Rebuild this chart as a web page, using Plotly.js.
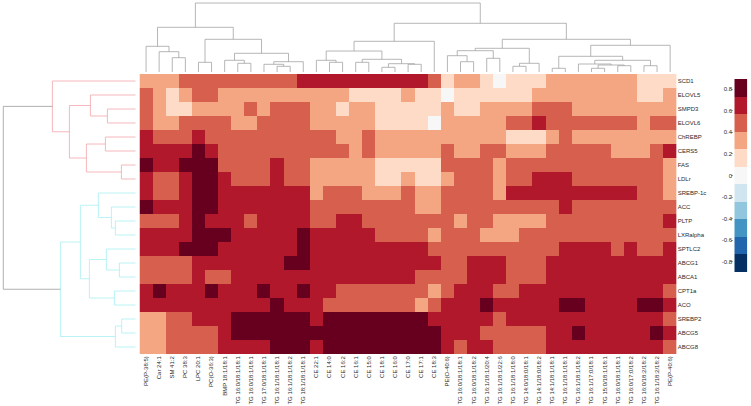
<!DOCTYPE html>
<html>
<head>
<meta charset="utf-8">
<script src="https://cdn.plot.ly/plotly-3.0.1.min.js"></script>
<style>html,body{margin:0;padding:0;background:#fff}#chart{width:751px;height:406px}</style>
</head>
<body>
<div id="chart"></div>
<script>
const columnLabels = ["PE(P-38:5)","Car 24:1","SM 41:2","PC 38:3","LPC 20:1","PC(O-36:3)","BMP 18:1/18:1",
"TG 16:0/18:1/18:1","TG 16:0/18:1/18:1","TG 17:0/18:1/18:1","TG 16:1/18:1/18:1","TG 16:1/18:1/18:2","TG 18:1/18:1/18:1",
"CE 22:1","CE 14:0","CE 16:2","CE 16:1","CE 15:0","CE 18:1","CE 16:0","CE 17:0","CE 17:1","CE 18:3","PE(O-40:6)",
"TG 16:0/18:1/18:1","TG 16:0/18:1/18:2","TG 16:1/18:1/20:4","TG 16:1/18:1/22:6","TG 16:1/18:1/18:0","TG 14:0/18:0/18:1","TG 14:1/18:0/18:2",
"TG 14:1/18:1/18:1","TG 16:1/18:1/18:1","TG 16:1/18:1/18:2","TG 16:1/17:0/18:1","TG 15:0/18:1/18:1","TG 16:0/18:1/18:1","TG 16:0/17:0/18:2",
"TG 16:0/18:2/18:2","TG 16:1/18:2/18:2","PE(P-40:6)"];
const rowLabels = ["SCD1","ELOVL5","SMPD3","ELOVL6","ChREBP","CERS5","FAS","LDLr","SREBP-1c","ACC","PLTP","LXRalpha","SPTLC2","ABCG1","ABCA1","CPT1a","ACO","SREBP2","ABCG5","ABCG8"];

const SCD1     = [.32,.32,.32,.49,.49,.49,.49,.49,.49,.49,.49,.49,.65,.65,.65,.65,.65,.65,.65,.65,.65,.65,.49,.16,.32,.32,.16,0,.16,.16,.16,.32,.32,.32,.32,.32,.32,.32,.16,.16,.16];
const ELOVL5   = [.49,.32,.16,.32,.49,.49,.32,.32,.32,.32,.32,.32,.32,.32,.32,.32,.16,.16,.16,.16,.32,.16,.16,0,.16,.16,.16,.16,.16,.16,.32,.32,.32,.32,.32,.32,.32,.32,.16,.16,.32];
const SMPD3    = [.49,.32,.16,.16,.32,.32,.32,.32,.49,.32,.49,.49,.49,.32,.32,.16,.32,.32,.16,.16,.16,.16,.16,.32,.16,.16,.32,.32,.32,.32,.49,.49,.49,.32,.32,.32,.32,.32,.32,.32,.32];
const ELOVL6   = [.49,.32,.32,.49,.49,.49,.49,.32,.32,.49,.49,.49,.49,.32,.32,.32,.32,.32,.16,.16,.16,.16,0,.32,.32,.32,.32,.32,.49,.49,.65,.49,.49,.49,.49,.49,.49,.49,.32,.49,.49];
const ChREBP   = [.65,.49,.49,.49,.65,.49,.49,.49,.49,.49,.49,.49,.49,.49,.49,.32,.32,.49,.32,.32,.32,.32,.32,.32,.32,.32,.32,.32,.16,.16,.16,.32,.49,.32,.32,.32,.32,.32,.32,.32,.32];
const CERS5    = [.65,.65,.65,.65,.81,.65,.49,.49,.49,.49,.49,.49,.49,.49,.49,.49,.32,.49,.32,.32,.32,.32,.32,.49,.32,.32,.49,.49,.32,.32,.32,.49,.49,.49,.49,.49,.32,.32,.32,.49,.65];
const FAS      = [.81,.65,.65,.81,.81,.81,.49,.49,.49,.49,.65,.49,.49,.32,.32,.32,.32,.32,.16,.16,.16,.16,.16,.49,.49,.49,.49,.32,.49,.49,.49,.49,.49,.49,.49,.49,.49,.49,.49,.49,.32];
const LDLr     = [.65,.49,.49,.65,.81,.81,.65,.49,.49,.49,.65,.49,.49,.32,.32,.32,.32,.32,.16,.16,.32,.16,.16,.32,.49,.49,.49,.32,.49,.49,.65,.65,.65,.49,.49,.49,.49,.49,.49,.49,.32];
const SREBP1c  = [.65,.49,.49,.65,.81,.81,.65,.65,.65,.65,.65,.65,.65,.32,.49,.49,.49,.32,.32,.32,.49,.32,.32,.49,.49,.49,.49,.32,.65,.65,.65,.65,.65,.65,.65,.65,.65,.65,.49,.49,.32];
const ACC      = [.81,.65,.65,.65,.81,.81,.65,.65,.65,.65,.65,.65,.65,.49,.49,.49,.49,.49,.49,.49,.49,.32,.32,.49,.49,.49,.49,.49,.49,.49,.49,.49,.65,.49,.49,.49,.49,.49,.49,.49,.49];
const PLTP     = [.49,.49,.49,.65,.81,.65,.65,.65,.49,.65,.65,.65,.65,.49,.49,.65,.65,.49,.49,.49,.49,.49,.49,.49,.32,.49,.49,.32,.32,.32,.32,.49,.49,.49,.49,.49,.49,.49,.49,.49,.65];
const LXRalpha = [.65,.65,.65,.65,.81,.81,.81,.65,.65,.65,.65,.65,.81,.65,.65,.65,.65,.65,.49,.49,.49,.49,.32,.49,.49,.49,.32,.32,.32,.49,.49,.49,.49,.49,.49,.49,.49,.49,.49,.49,.49];
const SPTLC2   = [.65,.65,.65,.81,.81,.81,.65,.65,.65,.65,.65,.65,.81,.65,.65,.65,.65,.65,.65,.65,.65,.65,.49,.49,.49,.49,.49,.49,.49,.49,.49,.49,.65,.65,.65,.65,.49,.65,.49,.49,.65];
const ABCG1    = [.49,.49,.49,.49,.65,.65,.65,.65,.65,.65,.65,.81,.81,.65,.65,.65,.65,.65,.65,.65,.65,.65,.65,.49,.49,.65,.65,.65,.49,.49,.49,.65,.65,.65,.65,.65,.65,.65,.65,.65,.65];
const ABCA1    = [.49,.49,.49,.49,.65,.49,.49,.65,.65,.65,.65,.65,.65,.65,.65,.65,.65,.65,.65,.65,.65,.49,.49,.49,.49,.65,.65,.65,.49,.49,.49,.65,.65,.65,.65,.65,.65,.65,.65,.65,.65];
const CPT1a    = [.65,.81,.65,.65,.65,.81,.65,.65,.65,.81,.65,.65,.81,.65,.65,.49,.49,.49,.49,.49,.49,.49,.32,.49,.65,.65,.65,.49,.49,.65,.65,.65,.65,.65,.65,.65,.65,.65,.65,.65,.49];
const ACO      = [.65,.65,.65,.65,.65,.65,.65,.65,.65,.65,.81,.65,.65,.65,.49,.49,.49,.49,.49,.49,.49,.32,.49,.65,.65,.65,.81,.65,.65,.65,.65,.65,.81,.81,.65,.65,.65,.65,.81,.81,.65];
const SREBP2   = [.32,.32,.49,.49,.65,.65,.65,.81,.81,.81,.81,.81,.81,.65,.81,.81,.81,.81,.81,.81,.81,.81,.65,.65,.65,.65,.65,.49,.65,.65,.65,.65,.65,.65,.65,.65,.65,.65,.65,.65,.49];
const ABCG5    = [.32,.32,.49,.49,.49,.49,.65,.81,.81,.81,.81,.81,.81,.81,.81,.81,.81,.81,.81,.81,.81,.81,.81,.65,.65,.65,.49,.49,.49,.49,.49,.65,.65,.81,.65,.65,.65,.65,.65,.81,.65];
const ABCG8    = [.32,.32,.49,.49,.49,.49,.65,.65,.65,.65,.81,.81,.81,.65,.81,.81,.81,.81,.81,.81,.81,.81,.81,.65,.49,.65,.65,.49,.49,.49,.49,.65,.65,.65,.65,.65,.65,.65,.65,.65,.49];

const bandColours = ["#053061","#2166ac","#4393c3","#92c5de","#d1e5f0","#f7f7f7","#fddbc7","#f4a582","#d6604d","#b2182b","#67001f"];
const bandCentres = [-.812,-.65,-.487,-.325,-.162,0,.162,.325,.487,.65,.812];
const scaleTicks = [-.8,-.6,-.4,-.2,0,.2,.4,.6,.8];
const scaleTickText = ["-0.8","-0.6","-0.4","-0.2","0","0.2","0.4","0.6","0.8"];

// dendrograms: [merge height, child, child]; a bare number is a leaf (column or row index)
const columnTree = [71,
  [46.7, [27.7,0,[22.3,1,[16.3,2,3]]], [34.7,[11.7,4,5],[20.7,[13.7,6,[10.7,7,8]],[12.3,[9.7,9,[7.7,10,11]],12]]]],
  [50.7,
    [32.7,[23,[13.7,13,[11.7,14,15]],[14.7,[11.7,16,17],[10.3,[6.7,18,19],[9.7,20,21]]]],22],
    [34.7,
      [25.7,[23.3,[18.3,23,[12.3,24,25]],[15.7,26,27]],[10.7,[7.7,28,29],30]],
      [28.7,[17.7,[5.7,31,32],[13.7,[10,33,[9,[5.7,34,35],[8.3,36,37]]],[8.3,38,39]]],40]]]];
const rowTreeUpper = [83.3,0,[66.3,[45.3,1,[28.3,2,3]],[49.3,[30.3,4,5],[14.3,6,7]]]];
const rowTreeLower = [75.3,[55.3,[37.3,8,[24.3,9,[20.3,10,11]]],[46.3,[29.3,12,[16.3,13,14]],[21.3,15,16]]],[20.3,[14,17,18],19]];
const rowTreeRootHeight = 132.4;
const columnLeafBase = 2;
const rowLeafBase = 0;

const matrix = [SCD1,ELOVL5,SMPD3,ELOVL6,ChREBP,CERS5,FAS,LDLr,SREBP1c,ACC,PLTP,LXRalpha,SPTLC2,ABCG1,ABCA1,CPT1a,ACO,SREBP2,ABCG5,ABCG8];
const zMax = 0.893;
const colorscale = [];
bandColours.forEach((c,i)=>{colorscale.push([i/11,c]);colorscale.push([(i+1)/11,c]);});

// px helpers for subplot placement
const W=751,H=406;
const L=139.5,R=676.7,T=74,B=354;
const xDom=(a,b)=>[a/W,b/W];
const yDom=(a,b)=>[(H-b)/H,(H-a)/H];

function walk(node,base,segs){
  if(typeof node==='number') return {p:node,h:base};
  const a=walk(node[1],base,segs), b=walk(node[2],base,segs), h=node[0];
  segs.pos.push(a.p,a.p,b.p,b.p,null);
  segs.hgt.push(a.h,h,h,b.h,null);
  return {p:(a.p+b.p)/2,h:h};
}
const colSegs={pos:[],hgt:[]}; walk(columnTree,columnLeafBase,colSegs);
const upSegs={pos:[],hgt:[]}; const upTop=walk(rowTreeUpper,rowLeafBase,upSegs);
const loSegs={pos:[],hgt:[]}; const loTop=walk(rowTreeLower,rowLeafBase,loSegs);

const idxX=columnLabels.map((_,i)=>i), idxY=rowLabels.map((_,i)=>i);
const fontFam='"Liberation Sans", Arial, sans-serif';
const tickFont={family:fontFam,size:6,color:'#2a2a2a'};
const treeLine=(c)=>({color:c,width:0.8,shape:'linear'});

const traces=[
 {type:'heatmap',x:idxX,y:idxY,z:matrix,colorscale:colorscale,zmin:-zMax,zmax:zMax,showscale:false,xgap:0,ygap:0,xaxis:'x',yaxis:'y'},
 {type:'scatter',mode:'lines',x:colSegs.pos,y:colSegs.hgt,line:treeLine('#a3a3a3'),hoverinfo:'skip',xaxis:'x2',yaxis:'y2',connectgaps:false},
 {type:'scatter',mode:'lines',x:upSegs.hgt,y:upSegs.pos,line:treeLine('#f2a6ab'),hoverinfo:'skip',xaxis:'x3',yaxis:'y3'},
 {type:'scatter',mode:'lines',x:loSegs.hgt,y:loSegs.pos,line:treeLine('#a8f0f2'),hoverinfo:'skip',xaxis:'x3',yaxis:'y3'},
 {type:'scatter',mode:'lines',x:[upTop.h,rowTreeRootHeight,rowTreeRootHeight,loTop.h],y:[upTop.p,upTop.p,loTop.p,loTop.p],line:treeLine('#9c9c9c'),hoverinfo:'skip',xaxis:'x3',yaxis:'y3'},
 {type:'heatmap',x:[0],y:bandCentres,z:bandCentres.map(v=>[v]),colorscale:colorscale,zmin:-zMax,zmax:zMax,showscale:false,xaxis:'x4',yaxis:'y4'}
];
const hidden={showgrid:false,zeroline:false,showticklabels:false,ticks:'',showline:false,fixedrange:true};
const layout={
 width:W,height:H,margin:{l:0,r:0,t:0,b:0},paper_bgcolor:'#fff',plot_bgcolor:'rgba(0,0,0,0)',showlegend:false,
 font:{family:fontFam,size:6,color:'#2a2a2a'},
 xaxis:{domain:xDom(L,R),range:[-.5,40.5],tickmode:'array',tickvals:idxX,ticktext:columnLabels,tickangle:-90,tickfont:tickFont,ticks:'',showgrid:false,zeroline:false,showline:false,side:'bottom',automargin:false,anchor:'y'},
 yaxis:{domain:yDom(T,B),range:[19.5,-.5],tickmode:'array',tickvals:idxY,ticktext:rowLabels,tickfont:tickFont,ticks:'',showgrid:false,zeroline:false,showline:false,side:'right',automargin:false,anchor:'x'},
 xaxis2:Object.assign({},hidden,{domain:xDom(L,R),range:[-.5,40.5],anchor:'y2'}),
 yaxis2:Object.assign({},hidden,{domain:yDom(0,T),range:[0,74],anchor:'x2'}),
 xaxis3:Object.assign({},hidden,{domain:xDom(0,135.7),range:[135.7,0],anchor:'y3'}),
 yaxis3:Object.assign({},hidden,{domain:yDom(T,B),range:[19.5,-.5],anchor:'x3'}),
 xaxis4:Object.assign({},hidden,{domain:xDom(734.3,747.3),range:[-.5,.5],anchor:'y4'}),
 yaxis4:{domain:yDom(79,272),range:[-zMax,zMax],side:'left',tickmode:'array',tickvals:scaleTicks,ticktext:scaleTickText,ticks:'outside',ticklen:2,tickwidth:.6,tickcolor:'#666',tickfont:tickFont,ticklabelstandoff:-2,showgrid:false,zeroline:false,showline:false,anchor:'x4',automargin:false}
};
Plotly.newPlot('chart',traces,layout,{staticPlot:true,displayModeBar:false});
</script>
</body>
</html>
